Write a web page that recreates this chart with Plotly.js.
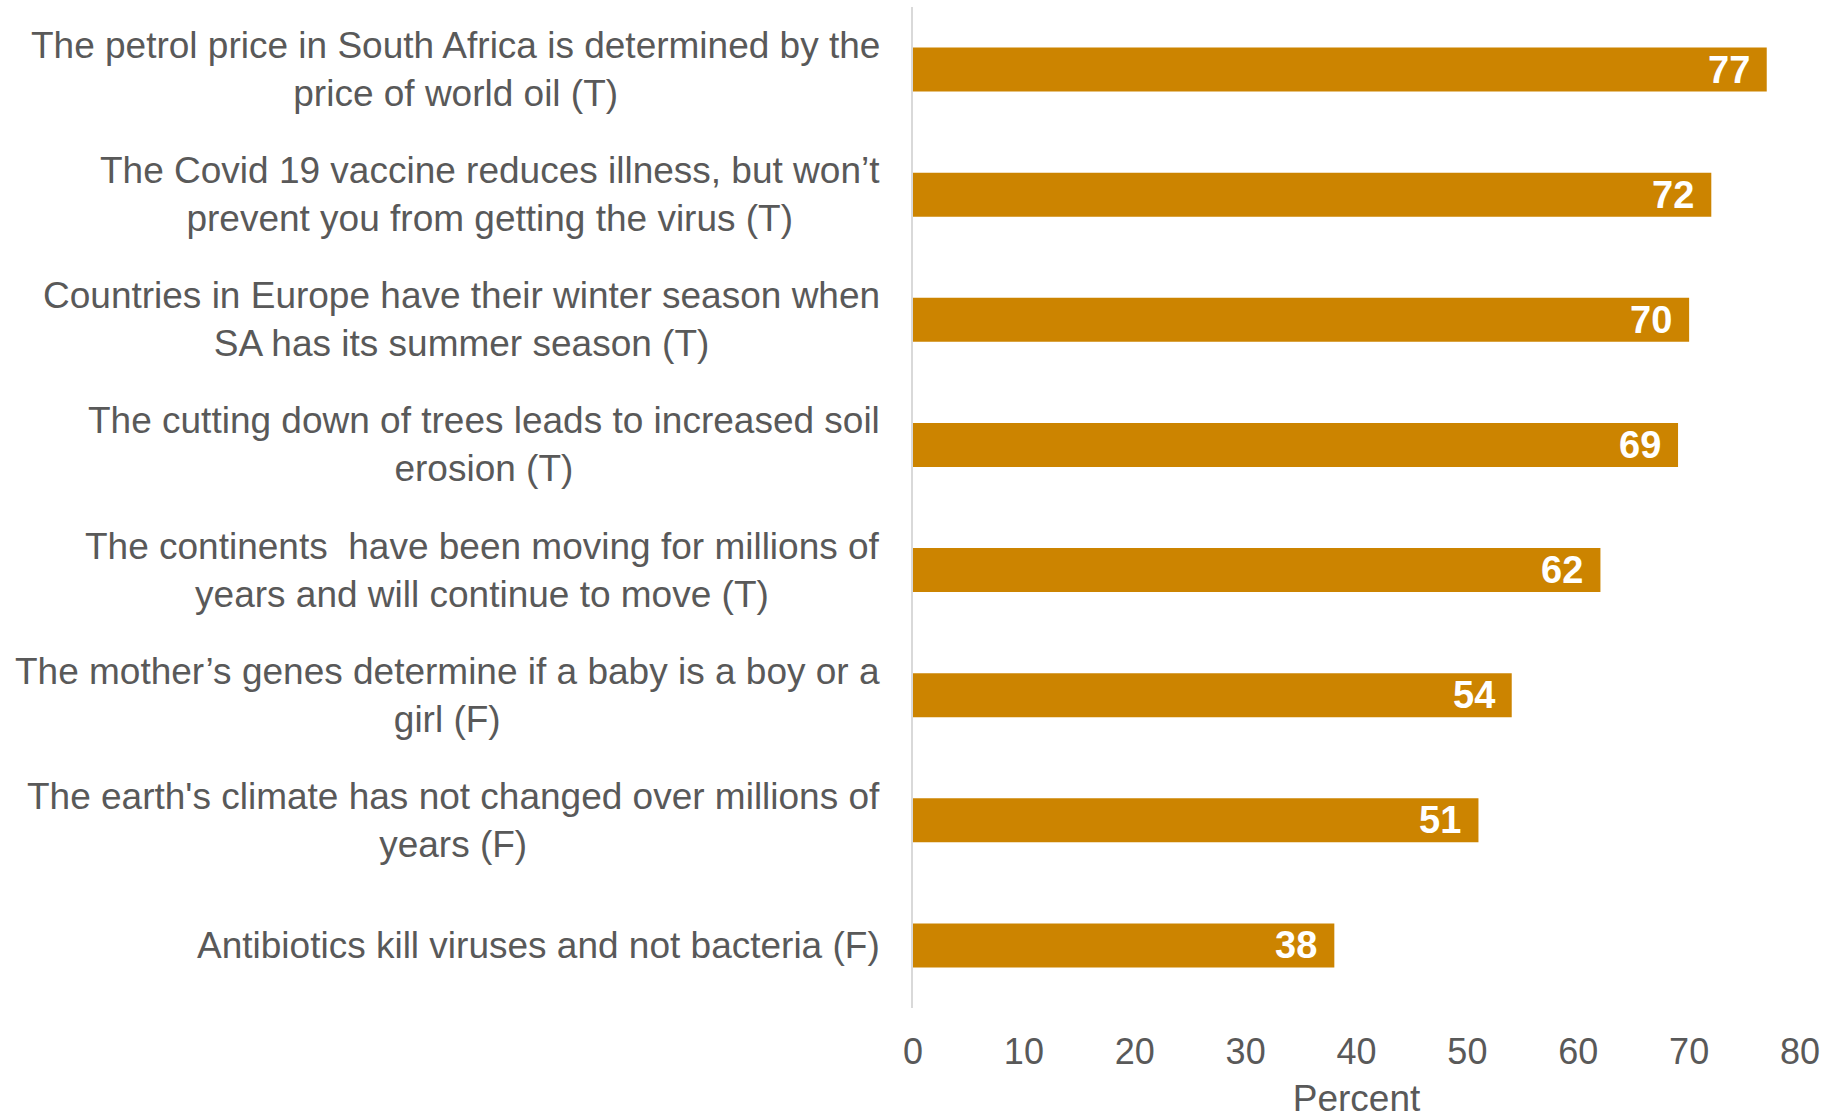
<!DOCTYPE html>
<html>
<head>
<meta charset="utf-8">
<script src="https://cdn.plot.ly/plotly-3.0.1.min.js"></script>
<style>html,body{margin:0;padding:0;background:#fff;}#chart{width:1837px;height:1119px;}</style>
</head>
<body>
<div id="chart"></div>
<script>
const categories = [
  "The petrol price in South Africa is determined by the<br>price of world oil (T)",
  "The Covid 19 vaccine reduces illness, but won’t<br>prevent you from getting the virus (T)",
  "Countries in Europe have their winter season when<br>SA has its summer season (T)",
  "The cutting down of trees leads to increased soil<br>erosion (T)",
  "The continents  have been moving for millions of<br>years and will continue to move (T)",
  "The mother’s genes determine if a baby is a boy or a<br>girl (F)",
  "The earth's climate has not changed over millions of<br>years (F)",
  "Antibiotics kill viruses and not bacteria (F)"
];
const values = [77, 72, 70, 69, 62, 54, 51, 38];
const xTicks = [0, 10, 20, 30, 40, 50, 60, 70, 80];

const FONT = '"Liberation Sans", Arial, sans-serif';
const GREY = '#595959';
const BAR = '#CC8400';

const trace = {
  type: 'bar',
  orientation: 'h',
  x: values,
  y: categories,
  marker: {color: BAR},
  hoverinfo: 'none'
};

const annotations = [];
categories.forEach((c, i) => {
  annotations.push({
    xref: 'paper', yref: 'y', x: 0, y: c,
    text: c, showarrow: false,
    xanchor: 'right', yanchor: 'middle', align: 'center',
    xshift: -31,
    font: {family: FONT, size: 37, color: GREY}
  });
  annotations.push({
    xref: 'x', yref: 'y', x: values[i], y: c,
    text: '<b>' + values[i] + '</b>', showarrow: false,
    xanchor: 'right', yanchor: 'middle',
    xshift: -15,
    font: {family: FONT, size: 38, color: '#ffffff'}
  });
});

const layout = {
  width: 1837, height: 1119,
  margin: {l: 913, r: 37, t: 7, b: 111, pad: 0},
  paper_bgcolor: '#ffffff', plot_bgcolor: '#ffffff',
  showlegend: false,
  bargap: 0.648,
  font: {family: FONT, color: GREY, size: 37},
  xaxis: {
    range: [0, 80], tickvals: xTicks, ticktext: xTicks.map(String),
    showgrid: false, zeroline: false, showline: false, ticks: '',
    ticklabelstandoff: 19,
    tickfont: {family: FONT, size: 36, color: GREY},
    title: {text: 'Percent', font: {family: FONT, size: 37, color: GREY}, standoff: 22},
    automargin: false, fixedrange: true
  },
  yaxis: {
    type: 'category', autorange: 'reversed',
    showticklabels: false, ticks: '', showgrid: false, zeroline: false,
    showline: true, linecolor: '#d9d9d9', linewidth: 2,
    automargin: false, fixedrange: true
  },
  annotations: annotations
};

Plotly.newPlot('chart', [trace], layout, {displayModeBar: false, staticPlot: true});
</script>
</body>
</html>
